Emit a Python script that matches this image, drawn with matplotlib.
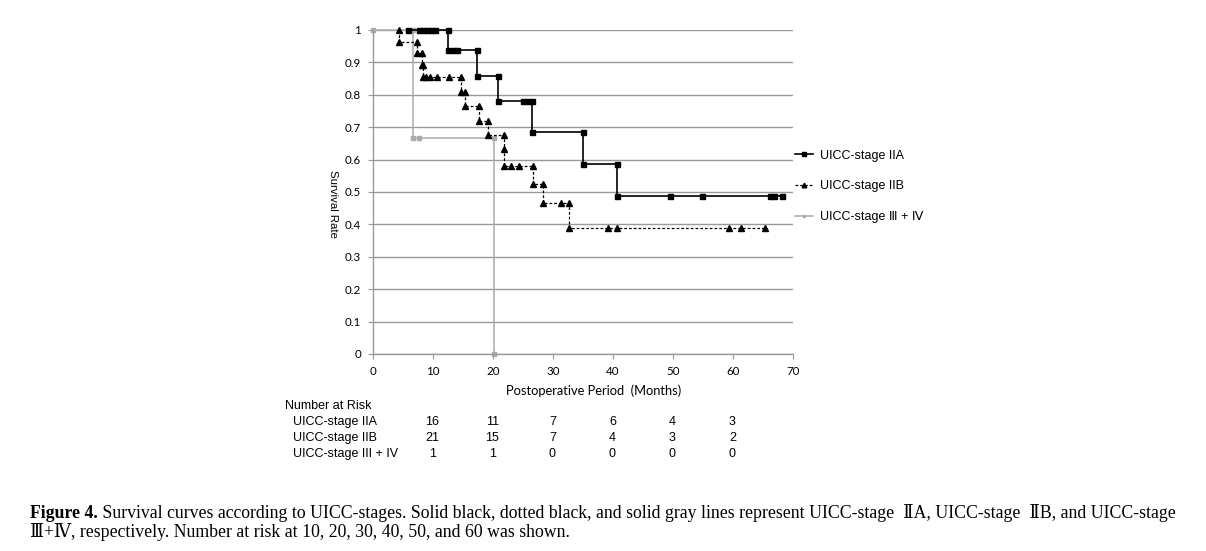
import matplotlib

matplotlib.use("Agg")
import matplotlib.pyplot as plt  # noqa: E402
import matplotlib.transforms as mtransforms  # noqa: E402

# survival curves (months, survival rate); every vertex gets a marker
iia_t = [5.8, 7.6, 8.3, 9.0, 9.7, 10.3, 12.5, 12.5, 13.3, 14.0, 17.3, 17.3, 20.8, 20.8,
         25.0, 25.9, 26.5, 26.5, 35.0, 35.0, 40.6, 40.6, 49.5, 54.9, 66.2, 66.9, 68.1]
iia_s = [1, 1, 1, 1, 1, 1, 1, 0.9375, 0.9375, 0.9375, 0.9375, 0.859, 0.859, 0.781,
         0.781, 0.781, 0.781, 0.684, 0.684, 0.586, 0.586, 0.488, 0.488, 0.488, 0.488, 0.488, 0.488]

iib_t = [4.4, 4.4, 7.4, 7.4, 8.1, 8.1, 8.4, 8.4, 8.9, 9.5, 10.6, 12.6, 14.7, 14.7, 15.3, 15.3,
         17.7, 17.7, 19.2, 19.2, 21.9, 21.9, 21.9, 23.0, 24.3, 26.6, 26.6, 28.3, 28.3, 31.4,
         32.7, 32.7, 39.2, 40.7, 59.4, 61.4, 65.4]
iib_s = [1, 0.964, 0.964, 0.928, 0.928, 0.892, 0.892, 0.856, 0.856, 0.856, 0.856, 0.856, 0.856,
         0.81, 0.81, 0.765, 0.765, 0.719, 0.719, 0.676, 0.676, 0.632, 0.58, 0.58, 0.58, 0.58,
         0.524, 0.524, 0.465, 0.465, 0.465, 0.388, 0.388, 0.388, 0.388, 0.388, 0.388]

iii_t = [0, 6.6, 6.6, 7.7, 20.2, 20.2]
iii_s = [1, 1, 0.667, 0.667, 0.667, 0]

legend_labels = ["UICC-stage IIA", "UICC-stage IIB", "UICC-stage \u2162 + \u2163"]

# number at risk table
risk_times = [10, 20, 30, 40, 50, 60]
risk_rows = ["UICC-stage IIA", "UICC-stage IIB", "UICC-stage III + IV"]
risk_iia = [16, 11, 7, 6, 4, 3]
risk_iib = [21, 15, 7, 4, 3, 2]
risk_iii = [1, 1, 0, 0, 0, 0]

x_ticks = [0, 10, 20, 30, 40, 50, 60, 70]
y_ticks = [0, 0.1, 0.2, 0.3, 0.4, 0.5, 0.6, 0.7, 0.8, 0.9, 1.0]
y_ticklabels = ["0", "0.1", "0.2", "0.3", "0.4", "0.5", "0.6", "0.7", "0.8", "0.9", "1"]

caption_bold = "Figure 4."
caption_line1 = (" Survival curves according to UICC-stages. Solid black, dotted black, and solid gray lines "
                 "represent UICC-stage  \u2161A, UICC-stage  \u2161B, and UICC-stage")
caption_line2 = "\u2162+\u2163, respectively. Number at risk at 10, 20, 30, 40, 50, and 60 was shown."

W, H = 1206, 551
SANS = ["Liberation Sans", "DejaVu Sans"]
CALI = ["Lato", "DejaVu Sans"]
SERIF = ["Liberation Serif", "DejaVu Serif"]
GRID = "#9a9a9a"

fig = plt.figure(figsize=(W / 100, H / 100), dpi=100)
ax = fig.add_axes([373 / W, 1 - 354 / H, 420 / W, 324 / H])

l1, = ax.plot(iia_t, iia_s, color="black", lw=1.2, marker="s", ms=3.6, zorder=4, clip_on=False)
l2, = ax.plot(iib_t, iib_s, color="black", lw=0.9, ls=(0, (2.2, 1.6)), marker="^", ms=4.2,
              zorder=3, clip_on=False)
l3, = ax.plot(iii_t, iii_s, color="#ababab", lw=1.1, marker="s", ms=2.6, zorder=2, clip_on=False)

ax.set_xlim(0, 70)
ax.set_ylim(0, 1)
ax.set_xticks(x_ticks)
ax.set_yticks(y_ticks)
ax.set_yticklabels(y_ticklabels)
for lab in ax.get_xticklabels() + ax.get_yticklabels():
    lab.set_family(CALI)
    lab.set_fontsize(8.3)
ax.tick_params(axis="both", direction="out", length=3.5, width=0.8, color=GRID, pad=5)
ax.grid(axis="y", color=GRID, lw=1.0)
ax.set_axisbelow(True)
for side in ("top", "right"):
    ax.spines[side].set_visible(False)
for side in ("left", "bottom"):
    ax.spines[side].set_color(GRID)
    ax.spines[side].set_linewidth(1.0)

fig.text(594 / W, 1 - 391 / H, "Postoperative Period  (Months)", family=CALI, fontsize=9.3,
         ha="center", va="center")
fig.text(333 / W, 1 - 204 / H, "Survival Rate", family=SANS, fontsize=8.2, rotation=270,
         ha="center", va="center")

ax.legend([l1, l2, l3], legend_labels, loc="center left", bbox_to_anchor=(795 / W, 1 - 186.5 / H),
          bbox_transform=fig.transFigure, frameon=False, prop={"family": SANS, "size": 9},
          handlelength=1.45, handletextpad=0.55, labelspacing=1.5, borderpad=0, borderaxespad=0,
          markerscale=0.8)

# number at risk table, columns under the x ticks
tr = mtransforms.blended_transform_factory(ax.transData, fig.transFigure)
fig.text(285 / W, 1 - 406 / H, "Number at Risk", family=SANS, fontsize=9, va="center")
for row_y, name, vals in zip([422, 438, 454], risk_rows, [risk_iia, risk_iib, risk_iii]):
    fig.text(293 / W, 1 - row_y / H, name, family=SANS, fontsize=9, va="center")
    for t, v in zip(risk_times, vals):
        fig.text(t - 0.1, 1 - row_y / H, str(v), transform=tr, family=SANS, fontsize=9,
                 ha="center", va="center")

# caption: bold lead-in followed by regular text
renderer = fig.canvas.get_renderer()
cap_size = 12.8
tb = fig.text(30 / W, 1 - 513 / H, caption_bold, family=SERIF, fontsize=cap_size,
              weight="bold", va="center")
bb = tb.get_window_extent(renderer)
fig.text(bb.x1 / W, 1 - 513 / H, caption_line1, family=SERIF, fontsize=cap_size, va="center")
fig.text(30 / W, 1 - 532 / H, caption_line2, family=SERIF, fontsize=cap_size, va="center")

fig.savefig("out.png", dpi=100)
